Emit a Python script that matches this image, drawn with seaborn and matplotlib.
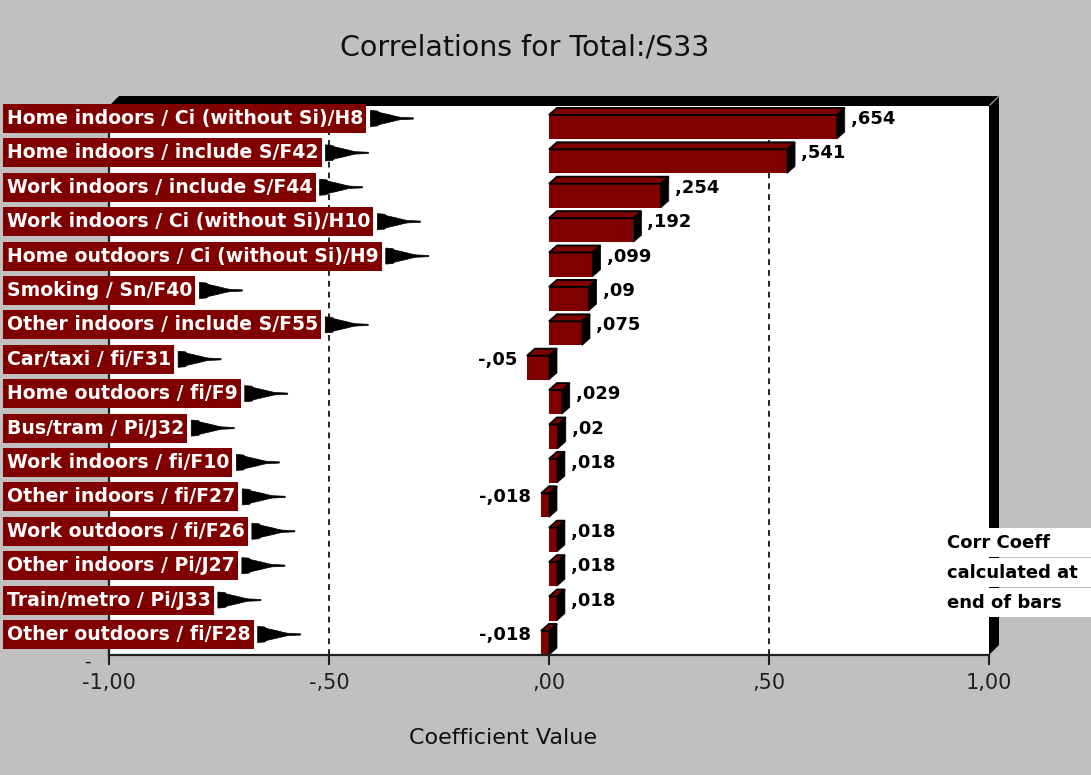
import matplotlib
matplotlib.use("Agg")
import numpy as np
import pandas as pd
import seaborn as sns
import matplotlib.pyplot as plt
from matplotlib.patches import Polygon, Rectangle
from matplotlib.lines import Line2D

# ---- data ----
labels = [
    "Home indoors / Ci (without Si)/H8",
    "Home indoors / include S/F42",
    "Work indoors / include S/F44",
    "Work indoors / Ci (without Si)/H10",
    "Home outdoors / Ci (without Si)/H9",
    "Smoking / Sn/F40",
    "Other indoors / include S/F55",
    "Car/taxi / fi/F31",
    "Home outdoors / fi/F9",
    "Bus/tram / Pi/J32",
    "Work indoors / fi/F10",
    "Other indoors / fi/F27",
    "Work outdoors / fi/F26",
    "Other indoors / Pi/J27",
    "Train/metro / Pi/J33",
    "Other outdoors / fi/F28",
]
values = [0.654, 0.541, 0.254, 0.192, 0.099, 0.09, 0.075, -0.05,
          0.029, 0.02, 0.018, -0.018, 0.018, 0.018, 0.018, -0.018]
tick_values = [-1.0, -0.5, 0.0, 0.5, 1.0]
tick_labels = ["-1,00", "-,50", ",00", ",50", "1,00"]
ref_lines = [-0.5, 0.5]
title = "Correlations for Total:/S33"
x_label = "Coefficient Value"
note_lines = ["Corr Coeff", "calculated at", "end of bars"]


def fmt_coeff(v):
    s = f"{abs(v):.3f}".rstrip("0").replace("0.", ",", 1)
    return ("-" if v < 0 else "") + s


# ---- style ----
W, H = 1091, 775
BG = "#c0c0c0"
MAROON = "#800000"
DX, DY = 8, 7          # 3D depth of the bars, pixels

sns.set_theme(style="white")
plt.rcParams["font.family"] = ["DejaVu Sans"]

fig = plt.figure(figsize=(W / 100, H / 100), dpi=100, facecolor=BG)


def fx(x):
    return x / W


def fy(y):
    return 1 - y / H


ax = fig.add_axes([fx(109), fy(655), fx(989) - fx(109), fy(106) - fy(655)])
ax.set_facecolor("white")

df = pd.DataFrame({"label": labels, "value": values})
sns.barplot(data=df, x="value", y="label", orient="h", color=MAROON,
            saturation=1, width=0.70, errorbar=None, linewidth=0,
            edgecolor="none", ax=ax, zorder=2)

ax.set_xlim(-1, 1)
ax.set_ylim(15.35, -0.61)
ax.set_xticks(tick_values, tick_labels)
ax.set_yticks([])
ax.set_xlabel("")
ax.set_ylabel("")
for s in ["top", "right"]:
    ax.spines[s].set_visible(False)
for s in ["left", "bottom"]:
    ax.spines[s].set_color("#202020")
    ax.spines[s].set_linewidth(1.6)
ax.tick_params(axis="x", length=7, width=1.5, direction="out",
               labelsize=15, pad=6, colors="#202020", labelcolor="#202020",
               bottom=True)

for xv in ref_lines:
    ax.axvline(xv, color="black", lw=1.2, linestyle=(0, (3.5, 3)), zorder=0.5)

# ---- 3D faces for each bar ----
to_disp = ax.transData.transform
to_data = ax.transData.inverted().transform
bars = list(ax.patches)
for p in bars:
    x0, w, y0, h = p.get_x(), p.get_width(), p.get_y(), p.get_height()
    c = to_disp([(x0, y0), (x0 + w, y0 + h)])
    xl, xr = c[:, 0].min(), c[:, 0].max()
    yb, yt = c[:, 1].min(), c[:, 1].max()
    top = to_data([(xl, yt), (xl + DX, yt + DY), (xr + DX, yt + DY), (xr, yt)])
    side = to_data([(xr, yt), (xr + DX, yt + DY), (xr + DX, yb + DY), (xr, yb)])
    ax.add_patch(Polygon(top, closed=True, fc=MAROON, ec="black", lw=1.4,
                         zorder=2, clip_on=False))
    ax.add_patch(Polygon(side, closed=True, fc="black", ec="black", lw=0.5,
                         zorder=2, clip_on=False))

# ---- value labels at the end of bars ----
for i, v in enumerate(values):
    if v >= 0:
        ax.annotate(fmt_coeff(v), xy=(v, i), xytext=(14, 8),
                    textcoords="offset pixels", ha="left", va="center",
                    fontsize=13, fontweight="bold", color="black", zorder=4,
                    annotation_clip=False)
    else:
        ax.annotate(fmt_coeff(v), xy=(v, i), xytext=(-10, 8),
                    textcoords="offset pixels", ha="right", va="center",
                    fontsize=13, fontweight="bold", color="black", zorder=4,
                    annotation_clip=False)

# ---- outer frame shadow (top and right walls) ----
top_wall = [(109, 106), (119, 96), (999, 96), (989, 106)]
right_wall = [(989, 106), (999, 96), (999, 645), (989, 655)]
for poly in (top_wall, right_wall):
    fig.add_artist(Polygon([(fx(a), fy(b)) for a, b in poly], closed=True,
                           fc="black", ec="none", transform=fig.transFigure,
                           zorder=1))
fig.add_artist(Line2D([fx(990), fx(999)], [fy(105), fy(96)], color="#909090",
                      lw=1, transform=fig.transFigure, zorder=1.5))

# ---- category labels on maroon boxes, each followed by a pennant ----
fig.canvas.draw()
renderer = fig.canvas.get_renderer()
pennant = [(0, 8), (7, 7.5), (9, 6), (20, 3.5), (26, 2), (30, 1.2), (43, 0.6),
           (43, -0.6), (30, -1.2), (26, -2), (20, -3.5), (9, -6), (7, -7.5),
           (0, -8)]
for i, lab in enumerate(labels):
    yc_disp = to_disp((0, i))[1] + 8.5          # display y (from bottom)
    yc = H - yc_disp                            # pixel y from top
    t = fig.text(fx(7), fy(yc), lab, color="white", fontsize=13.6,
                 fontweight="bold", ha="left", va="center", zorder=6)
    ext = t.get_window_extent(renderer)
    x_right = ext.x1 + 3
    fig.add_artist(Rectangle((fx(3), fy(yc + 14.5)), fx(x_right) - fx(3),
                             29 / H, fc=MAROON, ec="none",
                             transform=fig.transFigure, zorder=5))
    ax0 = x_right + 4
    fig.add_artist(Polygon([(fx(ax0 + a), fy(yc - b)) for a, b in pennant],
                           closed=True, fc="black", ec="black", lw=0.5,
                           transform=fig.transFigure, zorder=5))

# ---- note box on the right ----
row_top = [528, 558, 588]
for k, (yt, line) in enumerate(zip(row_top, note_lines)):
    fig.add_artist(Rectangle((fx(940), fy(yt + 29)), fx(1091) - fx(940),
                             29 / H, fc="white", ec="none",
                             transform=fig.transFigure, zorder=2))
    fig.text(fx(947), fy(yt + 15), line, fontsize=13, fontweight="bold",
             ha="left", va="center", color="black", zorder=3)

# ---- titles ----
fig.text(fx(525), fy(47), title, ha="center", va="center", fontsize=20.5,
         color="#101010")
fig.text(fx(503), fy(738), x_label, ha="center", va="center", fontsize=16,
         color="#101010")
fig.text(fx(87), fy(662), "-", ha="center", va="center", fontsize=13,
         color="#101010")

fig.savefig("out.png", dpi=100, facecolor=BG)
